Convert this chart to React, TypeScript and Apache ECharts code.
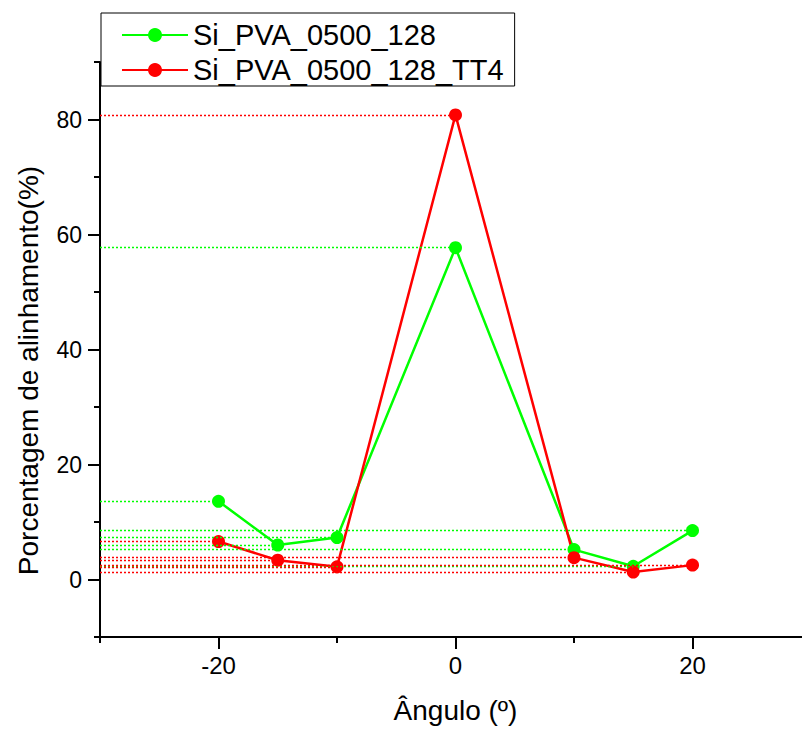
import React, { useEffect, useRef } from "react";
import * as echarts from "echarts";

const angles = [-20, -15, -10, 0, 10, 15, 20];
const seriesNames = ["Si_PVA_0500_128", "Si_PVA_0500_128_TT4"];
const greenValues = [13.6, 6.0, 7.3, 57.7, 5.2, 2.3, 8.5];
const redValues = [6.6, 3.35, 2.2, 80.8, 3.8, 1.3, 2.5];
const xTickLabels = [-20, 0, 20];
const yTickLabels = [0, 20, 40, 60, 80];
const xTitle = "Ângulo (º)";
const yTitle = "Porcentagem de alinhamento(%)";

const X_MIN = -30;
const X_MAX = 30;
const Y_MIN = -10;
const Y_MAX = 90;

const FONT = "'Liberation Sans', Arial, sans-serif";

function makeSeries(name: string, values: number[], color: string) {
  const dropStyle = { color, type: [2, 2], width: 1.3, opacity: 1 };
  return {
    name,
    type: "line",
    xAxisIndex: 0,
    yAxisIndex: 0,
    data: angles.map((a, i) => [a, values[i]]),
    symbol: "circle",
    symbolSize: 13,
    lineStyle: { color, width: 2.5 },
    itemStyle: { color },
    markLine: {
      silent: true,
      animation: false,
      symbol: ["none", "none"],
      label: { show: false },
      emphasis: { disabled: true },
      itemStyle: { color },
      lineStyle: dropStyle,
      data: angles.map((a, i) => [
        { coord: [X_MIN, values[i]], lineStyle: dropStyle, itemStyle: { color } },
        { coord: [a, values[i]] },
      ]),
    },
  };
}

export default function App() {
  const ref = useRef<HTMLDivElement>(null);
  useEffect(() => {
    if (!ref.current) return;
    const chart = echarts.init(ref.current, undefined, { renderer: "svg" });
    const axisLineStyle = { color: "#000", width: 2 };
    chart.setOption({
      animation: false,
      backgroundColor: "#fff",
      grid: { left: 100, top: 62, width: 711, height: 578.5 },
      legend: {
        show: true,
        orient: "vertical",
        left: 101,
        top: 13,
        itemWidth: 66,
        itemHeight: 17.5,
        itemGap: 3,
        itemTextGap: 8,
        padding: [6, 11, 0, 20],
        borderColor: "#000",
        borderWidth: 1,
        backgroundColor: "#fff",
        z: 10,
        textStyle: { fontSize: 29, lineHeight: 32, color: "#000", fontFamily: FONT },
        data: seriesNames,
      },
      xAxis: [
        {
          type: "value",
          min: X_MIN,
          max: X_MAX,
          interval: 10,
          position: "bottom",
          axisLine: { show: true, onZero: false, lineStyle: axisLineStyle },
          axisTick: { show: true, length: 6, lineStyle: axisLineStyle },
          axisLabel: { show: false },
          splitLine: { show: false },
          name: xTitle,
          nameLocation: "middle",
          nameGap: 59,
          nameTextStyle: { fontSize: 28, color: "#000", fontFamily: FONT },
        },
        {
          type: "value",
          min: X_MIN,
          max: X_MAX,
          interval: 10,
          position: "bottom",
          axisLine: { show: false, onZero: false },
          axisTick: { show: true, length: 12, customValues: xTickLabels, lineStyle: axisLineStyle },
          axisLabel: {
            show: true,
            customValues: xTickLabels,
            margin: 16,
            fontSize: 24,
            color: "#000",
            fontFamily: FONT,
          },
          splitLine: { show: false },
        },
      ],
      yAxis: [
        {
          type: "value",
          min: Y_MIN,
          max: Y_MAX,
          interval: 10,
          position: "left",
          axisLine: { show: true, onZero: false, lineStyle: axisLineStyle },
          axisTick: { show: true, length: 6, lineStyle: axisLineStyle },
          axisLabel: { show: false },
          splitLine: { show: false },
        },
        {
          type: "value",
          min: Y_MIN,
          max: Y_MAX,
          interval: 10,
          position: "left",
          axisLine: { show: false, onZero: false },
          axisTick: { show: true, length: 12, customValues: yTickLabels, lineStyle: axisLineStyle },
          axisLabel: {
            show: true,
            customValues: yTickLabels,
            margin: 18,
            fontSize: 23,
            color: "#000",
            fontFamily: FONT,
          },
          splitLine: { show: false },
        },
      ],
      graphic: [
        {
          type: "text",
          x: 28.5,
          y: 370.5,
          rotation: Math.PI / 2,
          style: {
            text: yTitle,
            fontSize: 28,
            fontFamily: FONT,
            fill: "#000",
            align: "center",
            verticalAlign: "middle",
          },
        },
      ],
      series: [
        makeSeries(seriesNames[0], greenValues, "#00ff00"),
        makeSeries(seriesNames[1], redValues, "#ff0000"),
      ],
    });
    return () => chart.dispose();
  }, []);
  return (
    <div
      style={{
        position: "absolute",
        left: 0,
        top: 0,
        width: 802,
        height: 729,
        overflow: "hidden",
      }}
    >
      <div ref={ref} style={{ width: 812, height: 729 }} />
    </div>
  );
}
